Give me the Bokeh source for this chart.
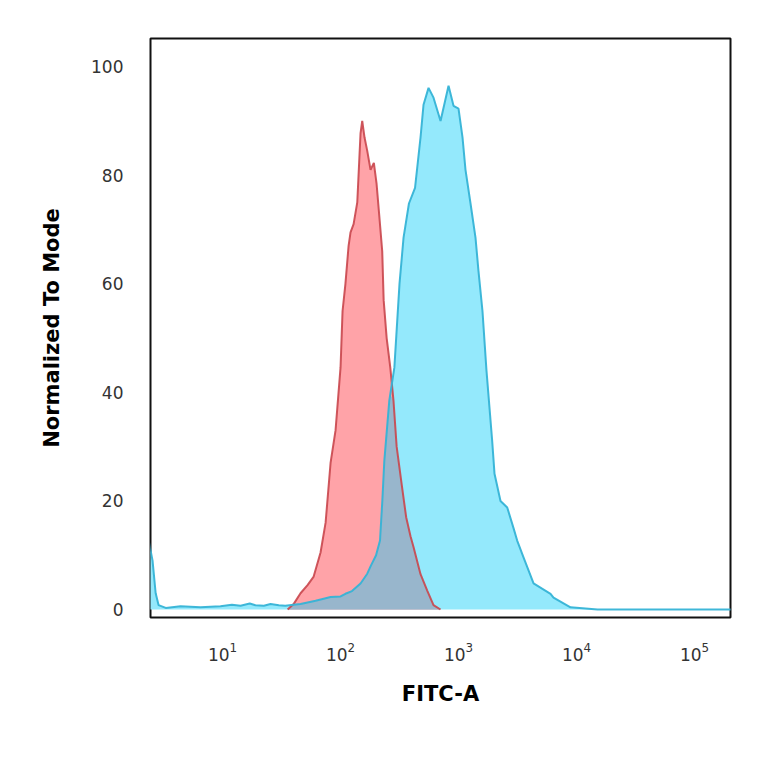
import numpy as np
from bokeh.plotting import figure
from bokeh.models import Range1d, FixedTicker
from bokeh.embed import file_html
from bokeh.resources import INLINE

# Isotype control (red histogram): FITC-A intensity vs % of mode
isotype_x = [35.6, 40.0, 45.8, 52.5, 59.0, 67.7, 74.7, 82.3, 90.7, 100, 104, 110, 117, 121.5,
             129, 138.6, 147.7, 152.7, 159.6, 168.4, 179.6, 191.6, 201.9, 211.2, 225.6,
             232, 246, 264, 281, 299, 330, 360, 391.8, 415.5, 476.4, 543.0,
             613.9, 703.6]
isotype_y = [0, 1, 3, 4.5, 6, 10.5, 16, 27, 33, 44.6, 55, 60, 67, 69.5,
             71, 75, 87.7, 90, 87, 84.5, 81, 82.3, 78.5, 73.5, 66,
             57, 50, 44.6, 38.5, 30, 23, 17, 13.5, 11.5, 6.5, 3.5,
             0.8, 0]

# Antibody stained sample (blue histogram)
antibody_x = [2.3, 2.55, 2.71, 2.87, 3.3, 4.4, 6.5, 9.6, 12, 14.2, 17, 19, 22.4, 25.5, 30,
              34, 40, 45.8, 52.5, 61.4, 72, 82.3, 100, 110, 125, 147.7, 168.4, 180, 200,
              216, 226, 235, 259, 286, 316, 342, 380, 428, 476.4, 505,
              557, 614, 704, 823, 907, 1000, 1081, 1146, 1264, 1393, 1476, 1596, 1726,
              1930, 2019, 2269, 2587, 2926, 3142, 3556, 4325, 6025, 6385, 8895, 15070,
              23600, 220000]
antibody_y = [14, 9, 3, 0.8, 0.3, 0.6, 0.4, 0.6, 0.9, 0.7, 1.1, 0.8, 0.7, 1.0, 0.8,
              0.7, 0.9, 1.0, 1.3, 1.6, 2.0, 2.3, 2.4, 2.9, 3.4, 4.8, 6.6, 8, 10,
              12.7, 20, 27.4, 38.5, 44.6, 60, 68.5, 74.8, 77.7, 87, 93,
              96.1, 94.3, 90, 96.5, 92.8, 92.3, 87, 81, 74.8, 68.5, 62.4, 55, 44,
              31, 25, 20, 18.8, 15, 12.7, 9.6, 4.8, 2.9, 2.2, 0.4, 0,
              0, 0]

y_ticks = [0, 20, 40, 60, 80, 100]
x_ticks = [10, 100, 1000, 10000, 100000]

p = figure(width=756, height=756, x_axis_type="log",
           x_range=Range1d(2.45, 2.02e5), y_range=Range1d(-1.47, 105.2),
           output_backend="svg", toolbar_location=None,
           min_border_left=150, min_border_right=26, min_border_top=38, min_border_bottom=139)

p.background_fill_color = "white"
p.border_fill_color = "white"
p.grid.visible = False
p.outline_line_color = "#111111"
p.outline_line_width = 2

# fills
p.varea(x=antibody_x, y1=0, y2=antibody_y, fill_color="#94E9FC", fill_alpha=1.0)
p.varea(x=isotype_x, y1=0, y2=isotype_y, fill_color="#FFA3A8", fill_alpha=1.0)

# overlap region (minimum of both histograms)
lg = np.union1d(np.log10(antibody_x), np.log10(isotype_x))
b_i = np.interp(lg, np.log10(antibody_x), antibody_y)
r_i = np.interp(lg, np.log10(isotype_x), isotype_y, left=0, right=0)
ov = np.minimum(b_i, r_i)
p.varea(x=10 ** lg, y1=0, y2=ov, fill_color="#98B6CC", fill_alpha=1.0)

# outlines
p.line(isotype_x, isotype_y, line_color="#C9464C", line_width=2, line_alpha=0.9)
p.line(antibody_x, antibody_y, line_color="#35B3D6", line_width=2, line_alpha=0.95)

# axes
for ax in (p.xaxis[0], p.yaxis[0]):
    ax.axis_line_color = None
    ax.major_tick_line_color = None
    ax.minor_tick_line_color = None
    ax.major_tick_out = 0
    ax.major_tick_in = 0
    ax.minor_tick_out = 0
    ax.major_label_text_font = "DejaVu Sans"
    ax.major_label_text_color = "#333333"
    ax.axis_label_text_font = "DejaVu Sans"
    ax.axis_label_text_font_style = "bold"
    ax.axis_label_text_color = "#000000"

p.yaxis.ticker = FixedTicker(ticks=y_ticks)
p.xaxis.ticker = FixedTicker(ticks=x_ticks)
p.yaxis.major_label_text_font_size = "17px"
p.xaxis.major_label_text_font_size = "17px"
p.yaxis.major_label_standoff = 27
p.xaxis.major_label_standoff = 24

p.yaxis.axis_label = "Normalized To Mode"
p.yaxis.axis_label_text_font_size = "21px"
p.yaxis.axis_label_standoff = 24
p.xaxis.axis_label = "FITC-A"
p.xaxis.axis_label_text_font_size = "21px"
p.xaxis.axis_label_standoff = 18

open("out.html", "w").write(file_html(p, INLINE))
